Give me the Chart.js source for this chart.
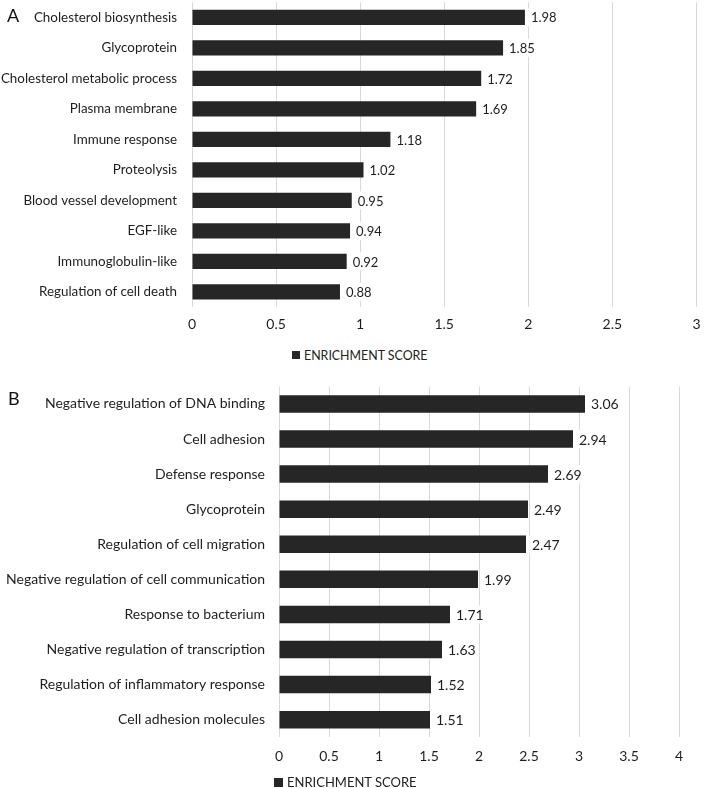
<!DOCTYPE html>
<html>
<head>
<meta charset="utf-8">
<script src="https://cdn.jsdelivr.net/npm/chart.js@4.4.1/dist/chart.umd.min.js"></script>
<style>
    body { margin: 0; background: #fff; font-family: Lato, sans-serif; }
    #page { position: relative; width: 709px; height: 788px; overflow: hidden; }
    .box { position: absolute; left: 0; width: 709px; }
    .panel-letter { position: absolute; font-size: 18px; color: #111; line-height: 22px; }
    .legend { position: absolute; display: flex; align-items: center; height: 14px; color: #222; white-space: nowrap; }
    .legend i { display: inline-block; background: #262626; margin-right: 4px; }
</style>
</head>
<body>
<div id="page">
    <div class="box" style="top:-21px;height:362px;"><canvas id="chart-a"></canvas></div>
    <div class="box" style="top:364px;height:412px;"><canvas id="chart-b"></canvas></div>
    <div class="panel-letter" style="left:7px;top:4px;">A</div>
    <div class="panel-letter" style="left:8px;top:387px;">B</div>
    <div class="legend" style="left:292px;top:348px;font-size:12.4px;"><i style="width:8px;height:8px;"></i>ENRICHMENT SCORE</div>
    <div class="legend" style="left:274px;top:775px;font-size:13px;"><i style="width:9px;height:9px;"></i>ENRICHMENT SCORE</div>
</div>
<script>
const seriesName = 'ENRICHMENT SCORE';

const categoriesA = [
    'Cholesterol biosynthesis', 'Glycoprotein', 'Cholesterol metabolic process',
    'Plasma membrane', 'Immune response', 'Proteolysis', 'Blood vessel development',
    'EGF-like', 'Immunoglobulin-like', 'Regulation of cell death'
];
const valuesA = [1.98, 1.85, 1.72, 1.69, 1.18, 1.02, 0.95, 0.94, 0.92, 0.88];

const categoriesB = [
    'Negative regulation of DNA binding', 'Cell adhesion', 'Defense response',
    'Glycoprotein', 'Regulation of cell migration', 'Negative regulation of cell communication',
    'Response to bacterium', 'Negative regulation of transcription',
    'Regulation of inflammatory response', 'Cell adhesion molecules'
];
const valuesB = [3.06, 2.94, 2.69, 2.49, 2.47, 1.99, 1.71, 1.63, 1.52, 1.51];

const barColor = '#262626';
const textColor = '#1e1e1e';
const gridColor = '#d9d9d9';

// draws the value next to each bar
const valueLabels = {
    id: 'valueLabels',
    afterDatasetsDraw(chart, args, opts) {
        const ctx = chart.ctx;
        const meta = chart.getDatasetMeta(0);
        ctx.save();
        ctx.font = opts.size + 'px Lato, sans-serif';
        ctx.textBaseline = 'middle';
        meta.data.forEach((bar, i) => {
            const text = chart.data.datasets[0].data[i].toFixed(2);
            const w = ctx.measureText(text).width;
            ctx.fillStyle = '#ffffff';
            ctx.fillRect(bar.x + 3, bar.y - 9, w + 6, 18);
            ctx.fillStyle = textColor;
            ctx.fillText(text, bar.x + 6, bar.y + 1);
        });
        ctx.restore();
    }
};

function makeChart(id, labels, values, cfg) {
    return new Chart(document.getElementById(id), {
        type: 'bar',
        data: {
            labels: labels,
            datasets: [{
                label: seriesName,
                data: values,
                backgroundColor: barColor,
                barPercentage: 1.0,
                categoryPercentage: 0.5
            }]
        },
        options: {
            indexAxis: 'y',
            responsive: true,
            maintainAspectRatio: false,
            animation: false,
            layout: { padding: { left: 0, right: cfg.rightPad, top: 1, bottom: 0 } },
            scales: {
                x: {
                    min: 0,
                    max: cfg.maxX,
                    ticks: {
                        stepSize: 0.5,
                        color: textColor,
                        font: { family: 'Lato', size: 14 },
                        padding: cfg.xPad,
                        callback: value => String(value)
                    },
                    grid: { color: gridColor, drawTicks: false },
                    border: { display: false }
                },
                y: {
                    ticks: {
                        color: textColor,
                        font: { family: 'Lato', size: cfg.labelSize },
                        padding: cfg.yPad
                    },
                    grid: { display: false, drawTicks: false },
                    border: { display: false },
                    afterFit(scale) { scale.width = cfg.axisWidth; }
                }
            },
            plugins: {
                legend: { display: false },
                tooltip: { enabled: false },
                valueLabels: { size: cfg.valueSize }
            }
        },
        plugins: [valueLabels]
    });
}

makeChart('chart-a', categoriesA, valuesA,
    { maxX: 3, axisWidth: 192, rightPad: 3, xPad: 8.5, yPad: 15, labelSize: 13.4, valueSize: 13 });
makeChart('chart-b', categoriesB, valuesB,
    { maxX: 4, axisWidth: 279, rightPad: 30, xPad: 11, yPad: 14, labelSize: 14, valueSize: 14 });
</script>
</body>
</html>
